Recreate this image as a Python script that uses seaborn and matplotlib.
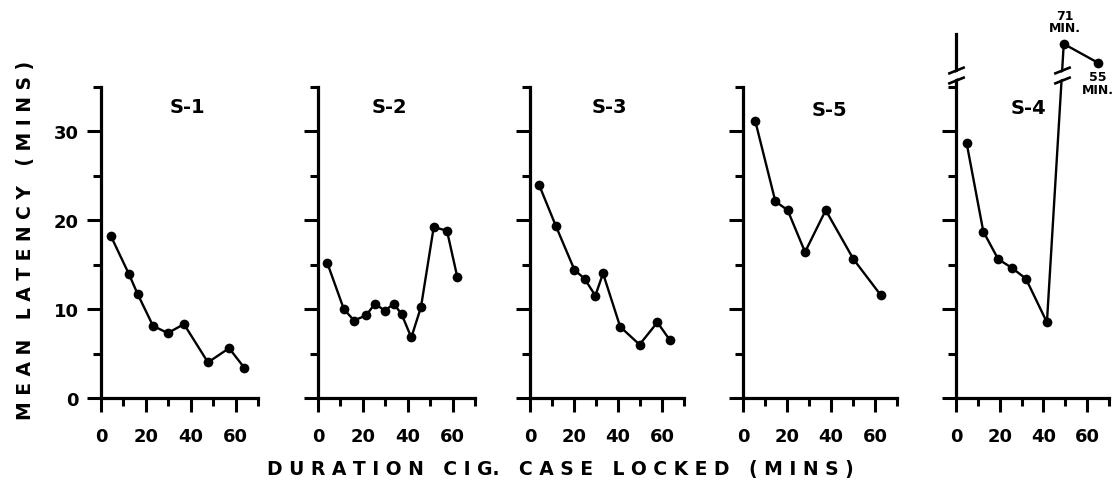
import numpy as np
import seaborn as sns
import matplotlib.pyplot as plt
from matplotlib.path import Path
from matplotlib.ticker import MultipleLocator, NullFormatter

# -----------------------------
# Data (minutes)
# -----------------------------
s1_x = [4.4, 12.5, 16.3, 23.2, 29.8, 37.0, 47.7, 57.1, 63.9]
s1_y = [18.2, 13.9, 11.7, 8.1, 7.3, 8.3, 4.0, 5.6, 3.4]

s2_x = [4.1, 11.5, 16.1, 21.5, 25.4, 29.8, 33.8, 37.3, 41.6, 45.9, 51.6, 57.5, 62.1]
s2_y = [15.2, 10.0, 8.7, 9.3, 10.6, 9.8, 10.6, 9.4, 6.8, 10.2, 19.2, 18.8, 13.6]

s3_x = [4.2, 11.8, 20.2, 24.8, 29.7, 33.2, 41.0, 49.8, 57.9, 63.6]
s3_y = [23.9, 19.3, 14.4, 13.4, 11.5, 14.0, 8.0, 6.0, 8.5, 6.5]

s5_x = [5.6, 14.7, 20.3, 28.2, 37.6, 50.2, 62.5]
s5_y = [31.1, 22.1, 21.1, 16.4, 21.1, 15.6, 11.6]

s4_x = [4.9, 12.5, 19.3, 25.7, 32.0, 41.6, 49.3, 65.0]
s4_y = [28.6, 18.7, 15.6, 14.6, 13.4, 8.5, 71, 55]

subjects = ['S-1', 'S-2', 'S-3', 'S-5', 'S-4']
xs = [s1_x, s2_x, s3_x, s5_x, s4_x]
ys = [s1_y, s2_y, s3_y, s5_y, s4_y]

# -----------------------------
# Layout
# -----------------------------
W, H = 1117, 489
lefts = [101, 318, 530, 743, 956]       # pixel x of the y axis
widths = [157, 157, 154, 154, 153]      # pixels for 0..70 min
y0 = 399                                # pixel y of latency 0
px_per_min = 8.9
title_pos = [(38.4, 32.7), (32, 32.7), (36, 32.7), (39.5, 32.4), (33, 32.6)]

# broken axis for S-4: above 35 min the scale is squeezed
BREAK = 35
SQUEEZE = 0.133


def fwd(v):
    v = np.asarray(v, dtype=float)
    return np.where(v <= BREAK, v, BREAK + (v - BREAK) * SQUEEZE)


def inv(d):
    d = np.asarray(d, dtype=float)
    return np.where(d <= BREAK, d, BREAK + (d - BREAK) / SQUEEZE)


sns.set_style('ticks')
plt.rcParams['font.family'] = ['DejaVu Sans']
plt.rcParams['font.weight'] = 'bold'
for k in ['text.color', 'axes.edgecolor', 'xtick.color', 'ytick.color',
          'xtick.labelcolor', 'ytick.labelcolor', 'axes.labelcolor']:
    plt.rcParams[k] = 'black'

fig = plt.figure(figsize=(W / 100, H / 100), dpi=100)

# "//" break mark and the white gap behind it
brk_lines = Path([(-1, -1.0), (1, -0.2), (-1, 0.2), (1, 1.0)],
                 [Path.MOVETO, Path.LINETO, Path.MOVETO, Path.LINETO])
brk_fill = Path([(-1, -0.8), (1, 0.0), (1, 0.8), (-1, 0.0), (-1, -0.8)],
                [Path.MOVETO, Path.LINETO, Path.LINETO, Path.LINETO, Path.CLOSEPOLY])


def draw_break(ax, x, d):
    yv = float(inv(d))
    ax.plot([x], [yv], marker=brk_fill, ms=12, mfc='white', mec='none',
            ls='none', clip_on=False, zorder=6)
    ax.plot([x], [yv], marker=brk_lines, ms=12, mec='black', mew=1.9,
            ls='none', clip_on=False, zorder=7)


for i, (name, x, y) in enumerate(zip(subjects, xs, ys)):
    broken = name == 'S-4'
    top = 40.9 if broken else 35
    ax = fig.add_axes([lefts[i] / W, (H - y0) / H, widths[i] / W,
                       top * px_per_min / H])
    if broken:
        ax.set_yscale('function', functions=(fwd, inv))

    sns.lineplot(x=x, y=y, ax=ax, color='black', linewidth=1.7,
                 marker='o', markersize=7, markeredgewidth=0,
                 estimator=None, clip_on=False)

    ax.set_xlim(0, 70)
    ax.set_ylim(0, float(inv(top)))
    ax.xaxis.set_major_locator(MultipleLocator(20))
    ax.xaxis.set_minor_locator(MultipleLocator(10))
    ax.set_yticks([0, 10, 20, 30])
    ax.set_yticks([5, 15, 25, 35], minor=True)
    ax.yaxis.set_minor_formatter(NullFormatter())
    if i > 0:
        ax.set_yticklabels([])

    for s in ['top', 'right']:
        ax.spines[s].set_visible(False)
    for s in ['left', 'bottom']:
        ax.spines[s].set_linewidth(2.3)
    ax.tick_params(which='major', length=10, width=2.2, labelsize=13, pad=6)
    ax.tick_params(axis='x', which='major', pad=11)
    ax.tick_params(which='minor', length=5.5, width=2.2)
    ax.set_xlabel('')
    ax.set_ylabel('')

    tx, ty = title_pos[i]
    ax.text(tx, ty, name, ha='center', va='center', fontsize=14, fontweight='bold')

    if broken:
        ax.annotate('71\nMIN.', (x[6], y[6]), xytext=(1, 16), textcoords='offset points',
                    ha='center', va='center', fontsize=9, fontweight='bold',
                    linespacing=0.95, annotation_clip=False)
        ax.annotate('55\nMIN.', (x[7], y[7]), xytext=(0, -14.5), textcoords='offset points',
                    ha='center', va='center', fontsize=9, fontweight='bold',
                    linespacing=0.95, annotation_clip=False)
        d = fwd(y)
        draw_break(ax, 0, 36.3)
        xb = np.interp(36.3, [d[5], d[6]], [x[5], x[6]])
        draw_break(ax, xb, 36.3)

fig.text(26 / W, 1 - 240 / H, 'M E A N   L A T E N C Y   ( M I N S )',
         rotation=90, ha='center', va='center', fontsize=13.5, fontweight='bold')
fig.text(560 / W, 1 - 470 / H, 'D U R A T I O N   C I G.   C A S E   L O C K E D   ( M I N S )',
         ha='center', va='center', fontsize=13.5, fontweight='bold')

fig.savefig('out.png', dpi=100)
